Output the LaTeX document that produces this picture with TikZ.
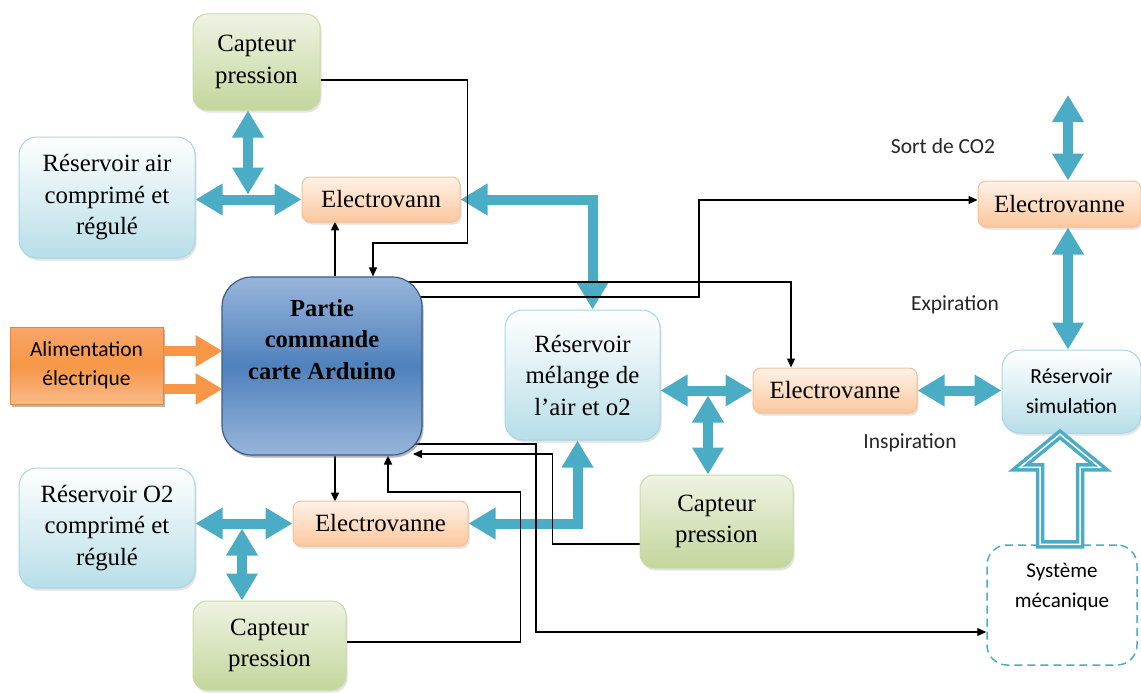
\documentclass[tikz,border=0pt]{standalone}
\usepackage{fontspec}
\setmainfont{Liberation Serif}
\newfontfamily\calibri{Carlito}
\usetikzlibrary{arrows.meta,shadows,backgrounds}

\definecolor{bleuflux}{HTML}{4BACC6}
\definecolor{bleuclair}{HTML}{B7DEE8}
\definecolor{bordbleu}{HTML}{A6D6E3}
\definecolor{vertclair}{HTML}{EEF3E3}
\definecolor{vertfonce}{HTML}{C3D69B}
\definecolor{bordvert}{HTML}{C8DBA5}
\definecolor{orangeclair}{HTML}{FFF2E8}
\definecolor{orangemoyen}{HTML}{FBC79D}
\definecolor{bordorange}{HTML}{F9BE92}
\definecolor{orangevif}{HTML}{F79646}
\definecolor{orangehaut}{HTML}{F9A66A}
\definecolor{orangebas}{HTML}{F9BA8A}
\definecolor{bleuarduino}{HTML}{4F81BD}
\definecolor{bleuarduinoclair}{HTML}{98B5DA}
\definecolor{bordarduino}{HTML}{385D8A}

% texte collé en haut d'une boîte
\newcommand{\texteenhaut}[3]{\parbox[c][#1][t]{#2}{\centering #3}}

\tikzset{
  pointe/.tip={Triangle[width=30pt,length=27pt]},
  fleche/.tip={Triangle[width=8pt,length=9pt]},
  boite/.style={rounded corners=14pt, align=center, inner sep=2pt, line width=1pt,
    drop shadow={opacity=0.22, shadow xshift=1.5pt, shadow yshift=-2.5pt},
    font=\fontsize{24.8}{31.5}\selectfont},
  capteur/.style={boite, draw=bordvert, top color=vertclair, bottom color=vertfonce},
  reservoir/.style={boite, rounded corners=18pt, draw=bordbleu, top color=white, bottom color=bleuclair},
  vanne/.style={boite, rounded corners=8pt, draw=bordorange, top color=orangeclair, bottom color=orangemoyen},
  commande/.style={boite, rounded corners=30pt, draw=bordarduino, line width=1.2pt,
    top color=bleuarduinoclair, bottom color=bleuarduinoclair, middle color=bleuarduino,
    drop shadow={opacity=0.45, shadow xshift=1.5pt, shadow yshift=-2.5pt},
    font=\bfseries\fontsize{24.5}{31.5}\selectfont},
  alimentation/.style={boite, rounded corners=0pt, draw=orangevif!90!black,
    top color=orangehaut, bottom color=orangebas, middle color=orangevif,
    drop shadow={opacity=0.45, shadow xshift=2pt, shadow yshift=-2.5pt},
    font=\calibri\fontsize{21.5}{29}\selectfont},
  meca/.style={draw=bleuflux, line width=1.5pt, dash pattern=on 8pt off 5pt,
    rounded corners=20pt, fill=white, align=center, font=\calibri\fontsize{21}{30}\selectfont},
  etiquette/.style={text=black!85, font=\calibri\fontsize{21.5}{25}\selectfont},
  tuyau/.style={line width=10pt, draw=bleuflux, pointe-pointe},
  courant/.style={line width=10pt, draw=orangevif, -pointe},
  signal/.style={line width=1.2pt, draw=black, -fleche},
  creux/.style={draw=bleuflux, line width=3.5pt, double=white, double distance=1.5pt, fill=white}
}

\begin{document}
\begin{tikzpicture}[x=1pt, y=-1pt]
\useasboundingbox (0,0) rectangle (1141,693);

% Capteurs de pression
\node[capteur, minimum width=127pt, minimum height=96pt] (cp1) at (256.5,62) {Capteur\\pression};
\node[capteur, minimum width=153pt, minimum height=89pt] (cp2) at (269.5,645.5) {Capteur\\pression};
\node[capteur, minimum width=153pt, minimum height=93pt] (cp3) at (716.5,521.5) {Capteur\\pression};

% Réservoirs
\node[reservoir, minimum width=176pt, minimum height=121pt] (rair) at (107,197.5) {Réservoir air\\comprimé et\\régulé};
\node[reservoir, minimum width=176pt, minimum height=120pt] (ro2) at (107,528) {Réservoir O2\\comprimé et\\régulé};
\node[reservoir, minimum width=155pt, minimum height=130pt] (rmel) at (582.5,375) {Réservoir\\mélange de\\l’air et o2};
\node[reservoir, font=\calibri\fontsize{21.5}{30}\selectfont, minimum width=139pt, minimum height=83pt] (rsim) at (1071.5,391.5) {Réservoir\\simulation};

% Electrovannes
\node[vanne, minimum width=158pt, minimum height=45pt] (ev1) at (381,199.5) {Electrovann};
\node[vanne, minimum width=175pt, minimum height=45pt] (ev2) at (380.5,523.5) {Electrovanne};
\node[vanne, minimum width=164pt, minimum height=45pt] (ev3) at (835,390.5) {Electrovanne};
\node[vanne, minimum width=163pt, minimum height=46pt] (ev4) at (1059.5,204) {Electrovanne};

% Partie commande et alimentation
\node[commande, minimum width=200pt, minimum height=178pt] (ard) at (322,366) {\texteenhaut{134pt}{190pt}{Partie\\commande\\carte Arduino}};
\node[alimentation, minimum width=153pt, minimum height=77pt] (alim) at (86.5,365.5) {Alimentation\\électrique};

% Système mécanique
\node[meca, minimum width=150pt, minimum height=120pt] (sysm) at (1062,605) {\texteenhaut{84pt}{140pt}{Système\\mécanique}};

% Étiquettes
\node[etiquette] (sortco2) at (943,146) {Sort de CO2};
\node[etiquette] (expi) at (955,305) {Expiration};
\node[etiquette] (inspi) at (910,443) {Inspiration};

% Jonctions des tuyaux
\coordinate (j1) at (248,194.5);
\coordinate (j2) at (708,395.5);
\coordinate (j3) at (242,528.5);
\coordinate (co2) at (1068,95);

\begin{scope}[on background layer]
% Liaisons pneumatiques
\draw[tuyau] (rair.east |- ev1.west) -- (ev1.west);
\draw[tuyau] (cp1.south -| j1) -- (j1);
\draw[tuyau] (ev1.east) -| ([xshift=10pt]rmel.north);
\draw[tuyau] (rmel.east |- ev3.west) -- (ev3.west);
\draw[tuyau] (j2) -- (j2 |- cp3.north);
\draw[tuyau] (ev3.east) -- (rsim.west |- ev3.east);
\draw[tuyau] (co2) -- (co2 |- ev4.north);
\draw[tuyau] (co2 |- ev4.south) -- (co2 |- rsim.north);
\draw[tuyau] (ro2.east |- ev2.west) -- (ev2.west);
\draw[tuyau] (j3) -- (j3 |- cp2.north);
\draw[tuyau] (ev2.east) -| ([xshift=-5pt]rmel.south);

% Signaux de commande
\draw[signal] ([yshift=-18pt]cp1.east) -| ++(147,163) -| ([xshift=51pt]ard.north);
\draw[signal] ([xshift=13pt]ard.north) -- ++(0,-55);
\draw[signal] ([xshift=13pt]ard.south) -- ++(0,46);
\draw[signal] ([yshift=84pt]ard.center) -| ([xshift=-44pt]ev3.north);
\draw[signal] ([yshift=69pt]ard.center) -- ++(377,0) |- ([yshift=4pt]ev4.west);
\draw[signal] ([yshift=-78pt]ard.center) -- ++(214,0) |- ([yshift=-27pt]sysm.west);
\draw[signal] ([yshift=-22.5pt]cp3.west) -| ++(-87,-90) -- ([xshift=91pt,yshift=-88pt]ard.center);
\draw[signal] ([yshift=3.5pt]cp2.east) -| ++(174,-150) -| ([xshift=66pt]ard.south);
\end{scope}

% Alimentation électrique
\foreach \dy in {14.5,-23.5}
  \draw[courant] ([yshift=\dy pt]alim.east) -- ++(59,0);

% Flèche creuse du système mécanique
\draw[creux, shift={(sysm.north)}] (-22,0) -- (-22,-77) -- (-42,-77) -- (-2,-110) -- (38,-77) -- (18,-77) -- (18,0) -- cycle;
\end{tikzpicture}
\end{document}
